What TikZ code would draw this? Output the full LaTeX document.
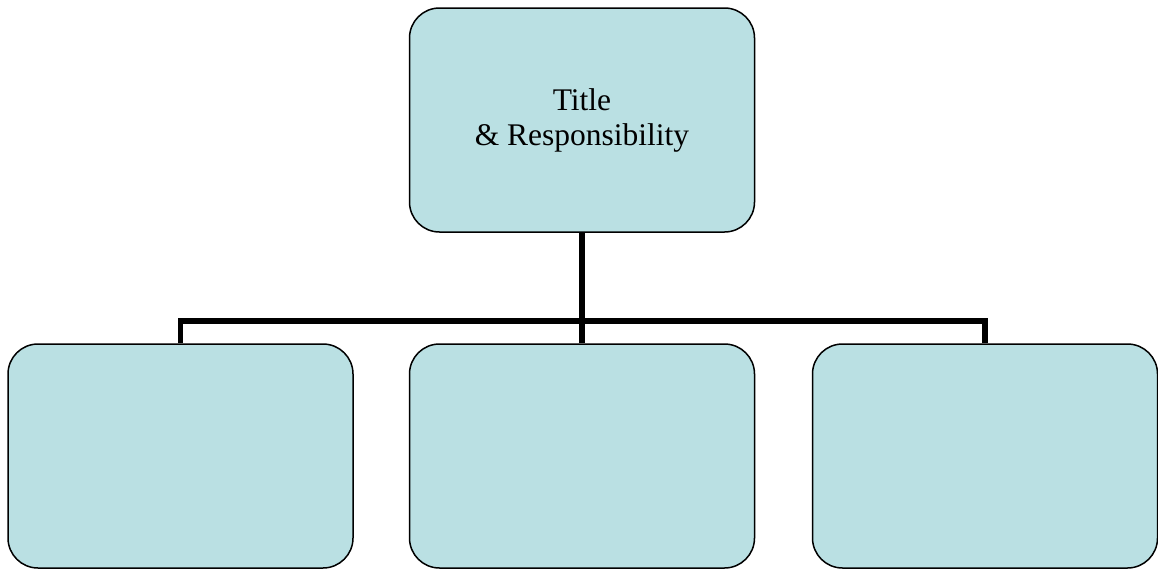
\documentclass[tikz,border=0pt]{standalone}
\usepackage{fontspec}
\setmainfont{Liberation Serif}
\definecolor{boxfill}{RGB}{186,224,227}
\begin{document}
\begin{tikzpicture}[x=1pt,y=-1pt,
  box/.style={draw=black, line width=1.5pt, fill=boxfill, rounded corners=30pt,
    minimum width=345pt, minimum height=224pt, inner sep=0pt, align=center,
    font=\fontsize{31.5}{35}\selectfont},
  conn/.style={draw=black, line width=5.5pt, line join=miter}]
\useasboundingbox (0,0) rectangle (1158,570);
\node[box] (top) at (582,120) {Title\\ \& Responsibility};
\node[box] (left) at (180.5,456) {};
\node[box] (mid) at (582,456) {};
\node[box] (right) at (985,456) {};
\coordinate (bus) at (582,321);
\draw[conn] (top.south) -- (top.south |- bus);
\draw[conn] (left.north) -- (left.north |- bus) -- (right.north |- bus) -- (right.north);
\draw[conn] (mid.north) -- (mid.north |- bus);
\end{tikzpicture}
\end{document}
